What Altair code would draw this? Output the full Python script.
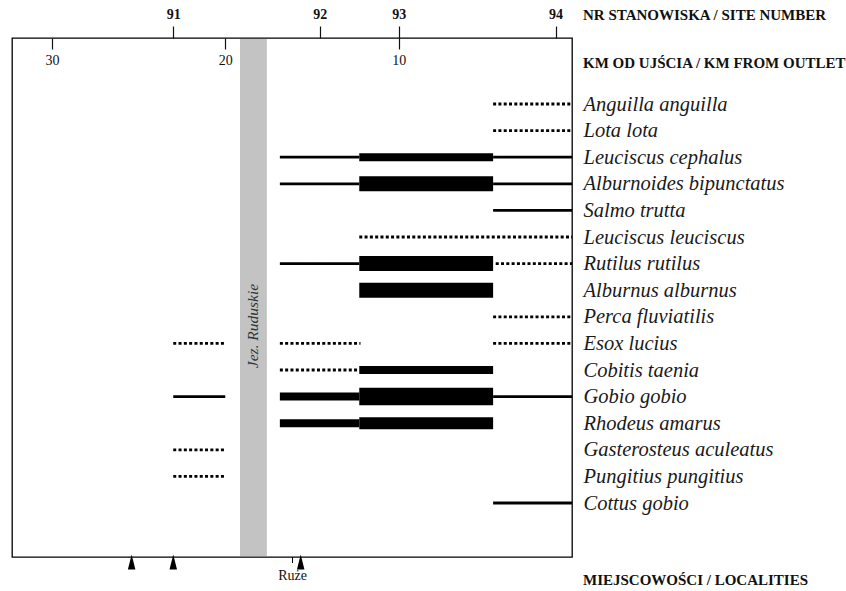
import json
import altair as alt
import pandas as pd

# ---------------- data ----------------
species = [
    "Anguilla anguilla", "Lota lota", "Leuciscus cephalus", "Alburnoides bipunctatus",
    "Salmo trutta", "Leuciscus leuciscus", "Rutilus rutilus", "Alburnus alburnus",
    "Perca fluviatilis", "Esox lucius", "Cobitis taenia", "Gobio gobio",
    "Rhodeus amarus", "Gasterosteus aculeatus", "Pungitius pungitius", "Cottus gobio",
]

# one entry per drawn segment: species, km from outlet (start, end), abundance class
seg_species = [
    "Anguilla anguilla",
    "Lota lota",
    "Leuciscus cephalus", "Leuciscus cephalus", "Leuciscus cephalus",
    "Alburnoides bipunctatus", "Alburnoides bipunctatus", "Alburnoides bipunctatus",
    "Salmo trutta",
    "Leuciscus leuciscus",
    "Rutilus rutilus", "Rutilus rutilus", "Rutilus rutilus",
    "Alburnus alburnus",
    "Perca fluviatilis",
    "Esox lucius", "Esox lucius", "Esox lucius",
    "Cobitis taenia", "Cobitis taenia",
    "Gobio gobio", "Gobio gobio", "Gobio gobio", "Gobio gobio",
    "Rhodeus amarus", "Rhodeus amarus",
    "Gasterosteus aculeatus",
    "Pungitius pungitius",
    "Cottus gobio",
]
seg_from = [
    4.55, 4.55,
    16.85, 12.27, 4.55,
    16.85, 12.27, 4.55,
    4.55,
    12.27,
    16.85, 12.27, 4.4,
    12.27,
    4.55,
    23.0, 16.85, 4.55,
    16.85, 12.27,
    23.0, 16.85, 12.27, 4.55,
    16.85, 12.27,
    23.0,
    23.0,
    4.55,
]
seg_to = [
    0.0, 0.0,
    12.27, 4.55, 0.0,
    12.27, 4.55, 0.0,
    0.0,
    0.0,
    12.27, 4.55, 0.0,
    4.55,
    0.0,
    20.0, 12.2, 0.0,
    12.27, 4.55,
    20.0, 12.27, 4.55, 0.0,
    12.27, 4.55,
    20.0,
    20.0,
    0.0,
]
seg_class = [
    "sporadic", "sporadic",
    "rare", "frequent", "rare",
    "rare", "abundant", "rare",
    "rare",
    "sporadic",
    "rare", "abundant", "sporadic",
    "abundant",
    "sporadic",
    "sporadic", "sporadic", "sporadic",
    "sporadic", "frequent",
    "rare", "frequent", "dominant", "rare",
    "frequent", "common",
    "sporadic",
    "sporadic",
    "rare",
]

site_numbers = ["91", "92", "93", "94"]
site_km = [23.0, 14.55, 10.0, 0.95]
km_ticks = [30, 20, 10]

lake_name = ["Jez. Ruduskie"]
lake_from = [19.15]
lake_to = [17.6]

locality_km = [25.4, 23.0, 15.65]
ruze_label = ["Ruże"]
ruze_km = [16.12]

header_texts = ["NR STANOWISKA / SITE NUMBER", "KM OD UJŚCIA / KM FROM OUTLET", "MIEJSCOWOŚCI / LOCALITIES"]

# ---------------- styling ----------------
W, H = 560, 519
SERIF = "Liberation Serif"
classes = ["sporadic", "rare", "frequent", "common", "abundant", "dominant"]
class_width = [2.8, 2.8, 8, 12, 15, 17.5]
class_dash = [[3, 2.3], [1, 0], [1, 0], [1, 0], [1, 0], [1, 0]]

x_scale = alt.Scale(domain=[32.3, 0], nice=False, zero=False)

seg_df = pd.DataFrame({"species": seg_species, "from": seg_from, "to": seg_to, "cls": seg_class})
lake_df = pd.DataFrame({"name": lake_name, "from": lake_from, "to": lake_to})
loc_df = pd.DataFrame({"km": locality_km})
ruze_df = pd.DataFrame({"name": ruze_label, "km": ruze_km})

site_label_expr = f"{json.dumps(site_numbers)}[indexof({json.dumps(site_km)}, datum.value)]"

# lake band (carries the inner km axis)
lake = alt.Chart(lake_df).mark_rect(color="#c3c3c3").encode(
    x=alt.X("from:Q", scale=x_scale, axis=alt.Axis(
        orient="bottom", offset=-H, values=km_ticks, format="d", tickSize=11,
        domain=False, grid=False, labelFont=SERIF, labelFontSize=14, labelColor="#111",
        tickColor="#111", tickWidth=1.2, labelPadding=4, title=None, labelAngle=0)),
    x2="to:Q",
    y=alt.value(1),
    y2=alt.value(H - 1),
)

lake_text = alt.Chart(lake_df).transform_calculate(
    mid="(datum.from + datum.to) / 2"
).mark_text(angle=270, font=SERIF, fontStyle="italic", fontSize=15.5, color="#333",
            align="center", baseline="middle").encode(
    x=alt.X("mid:Q", scale=x_scale, axis=None),
    y=alt.value(288),
    text="name:N",
)

segments = alt.Chart(seg_df).mark_rule(strokeCap="butt", color="black").encode(
    x=alt.X("from:Q", scale=x_scale, axis=alt.Axis(
        orient="top", values=site_km, labelExpr=site_label_expr, tickSize=12,
        domain=False, grid=False, labelFont=SERIF, labelFontWeight="bold", labelFontSize=14,
        labelColor="#111", tickColor="#111", tickWidth=1.2, labelPadding=5, title=None,
        labelAngle=0)),
    x2="to:Q",
    y=alt.Y("species:N", scale=alt.Scale(type="point", domain=species, range=[66, 465], padding=0),
            axis=alt.Axis(orient="right", ticks=False, domain=False, grid=False,
                          labelFont=SERIF, labelFontStyle="italic", labelFontSize=20.5,
                          labelColor="#1a1a1a", labelPadding=11, title=None,
                          labelLimit=300)),
    size=alt.Size("cls:N", scale=alt.Scale(type="ordinal", domain=classes, range=class_width), legend=None),
    strokeDash=alt.StrokeDash("cls:N", scale=alt.Scale(domain=classes, range=class_dash), legend=None),
)

tri_path = "M-0.5,1L0,-1L0.5,1Z"
markers = alt.Chart(loc_df).mark_point(shape=tri_path, filled=True, color="black", size=225, opacity=1).encode(
    x=alt.X("km:Q", scale=x_scale, axis=None),
    y=alt.value(H + 5),
)

ruze_tick = alt.Chart(ruze_df).mark_rule(color="black", strokeWidth=1).encode(
    x=alt.X("km:Q", scale=x_scale, axis=None),
    y=alt.value(H),
    y2=alt.value(H + 6),
)
ruze_text = alt.Chart(ruze_df).mark_text(font=SERIF, fontSize=14, color="#111", baseline="middle").encode(
    x=alt.X("km:Q", scale=x_scale, axis=None),
    y=alt.value(H + 19),
    text="name:N",
)

header_y = [-23, 25, H + 23]
headers = [
    alt.Chart(pd.DataFrame({"t": [t]})).mark_text(
        font=SERIF, fontWeight="bold", fontSize=15, color="#111", align="left", baseline="middle"
    ).encode(x=alt.value(W + 11), y=alt.value(yy), text="t:N")
    for t, yy in zip(header_texts, header_y)
]

chart = alt.layer(lake, segments, lake_text, markers, ruze_tick, ruze_text, *headers).resolve_axis(
    x="independent"
).properties(
    width=W, height=H,
    autosize=alt.AutoSizeParams(type="none"),
    padding={"left": 12, "top": 38, "right": 274, "bottom": 34},
    background="white",
).configure_view(stroke="black", strokeWidth=1.3)

chart.save("out.html", embed_options={"renderer": "svg", "actions": False})
